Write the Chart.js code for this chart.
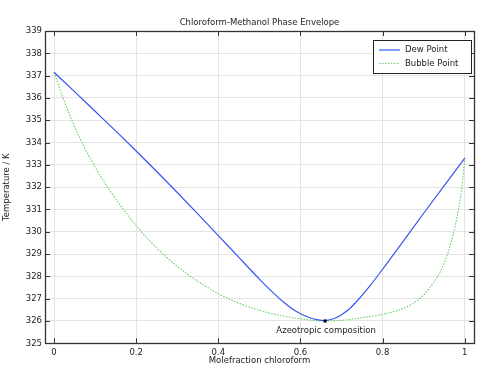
<!DOCTYPE html>
<html>
<head>
<meta charset="utf-8">
<script src="https://cdn.jsdelivr.net/npm/chart.js@4/dist/chart.umd.min.js"></script>
<style>
html,body{margin:0;padding:0;background:#fff;}
#wrap{width:479px;height:366px;position:relative;}
</style>
</head>
<body>
<div id="wrap"><canvas id="c" width="479" height="366"></canvas></div>
<script>
// ---- data ----
const chartTitle = "Chloroform-Methanol Phase Envelope";
const xTitle = "Molefraction chloroform";
const yTitle = "Temperature / K";
const seriesNames = ["Dew Point", "Bubble Point"];
const annotationText = "Azeotropic composition";

const dewX = [0, 0.05, 0.1, 0.15, 0.2, 0.25, 0.3, 0.35, 0.4, 0.45, 0.5, 0.53, 0.56, 0.59, 0.62, 0.64, 0.66, 0.68, 0.7, 0.72, 0.74, 0.77, 0.8, 0.85, 0.9, 0.95, 1.0];
const dewT = [337.15, 336.28, 335.4, 334.52, 333.62, 332.7, 331.76, 330.8, 329.83, 328.85, 327.88, 327.33, 326.83, 326.43, 326.17, 326.06, 326.02, 326.1, 326.28, 326.56, 326.94, 327.6, 328.32, 329.57, 330.83, 332.07, 333.3];

const bubX = [0, 0.025, 0.05, 0.075, 0.1, 0.125, 0.15, 0.175, 0.2, 0.25, 0.3, 0.35, 0.4, 0.45, 0.5, 0.55, 0.6, 0.65, 0.7, 0.75, 0.8, 0.85, 0.875, 0.9, 0.925, 0.94, 0.95, 0.96, 0.97, 0.98, 0.99, 0.995, 1.0];
const bubT = [337.15, 335.85, 334.72, 333.74, 332.9, 332.15, 331.48, 330.85, 330.27, 329.27, 328.45, 327.78, 327.22, 326.8, 326.48, 326.25, 326.1, 326.01, 326.03, 326.15, 326.3, 326.56, 326.8, 327.17, 327.75, 328.2, 328.6, 329.1, 329.75, 330.55, 331.6, 332.3, 333.3];

const azeoX = [0.66];
const azeoT = [326.0];

const xTicks = [0, 0.2, 0.4, 0.6, 0.8, 1];
const yTicks = [325, 326, 327, 328, 329, 330, 331, 332, 333, 334, 335, 336, 337, 338, 339];

// ---- styling ----
const FONT = "DejaVu Sans";
const FS = 8.5;
const blue = "rgb(55,85,245)";
const green = "rgb(100,205,100)";
const textCol = "#222";

function pts(xs, ys){ return xs.map((x,i)=>({x:x, y:ys[i]})); }

const framePlugin = {
  id: 'frame',
  afterDraw(chart){
    const ctx = chart.ctx, a = chart.chartArea;
    const xs = chart.scales.x, ys = chart.scales.y;
    ctx.save();
    ctx.strokeStyle = "#333";
    ctx.lineWidth = 1;
    // inward ticks on all four sides
    ctx.beginPath();
    xTicks.forEach(v=>{
      const px = Math.round(xs.getPixelForValue(v)) + 0.5;
      ctx.moveTo(px, a.bottom); ctx.lineTo(px, a.bottom - 5);
      ctx.moveTo(px, a.top); ctx.lineTo(px, a.top + 5);
    });
    yTicks.forEach(v=>{
      const py = Math.round(ys.getPixelForValue(v)) + 0.5;
      ctx.moveTo(a.left, py); ctx.lineTo(a.left + 5, py);
      ctx.moveTo(a.right, py); ctx.lineTo(a.right - 5, py);
    });
    ctx.stroke();
    // frame
    ctx.lineWidth = 1.3;
    ctx.strokeRect(Math.round(a.left)+0.5, Math.round(a.top)+0.5, Math.round(a.right-a.left), Math.round(a.bottom-a.top));

    // title centred over the plot area
    ctx.fillStyle = textCol;
    ctx.font = FS + "px '" + FONT + "'";
    ctx.textAlign = "center";
    ctx.textBaseline = "middle";
    ctx.fillText(chartTitle, (a.left + a.right) / 2, a.top - 8.5);

    // annotation text under the azeotrope point
    const ax = xs.getPixelForValue(azeoX[0]);
    const ay = ys.getPixelForValue(azeoT[0]);
    ctx.fillText(annotationText, ax + 1, ay + 10);

    // legend box (top-right, inside plot)
    const lx = a.right - 101, ly = a.top + 9, lw = 98, lh = 33;
    ctx.fillStyle = "#fff";
    ctx.fillRect(lx, ly, lw, lh);
    ctx.lineWidth = 1;
    ctx.strokeStyle = "#222";
    ctx.strokeRect(Math.round(lx)+0.5, Math.round(ly)+0.5, lw, lh);
    const entries = [
      {label: seriesNames[0], color: blue, dash: []},
      {label: seriesNames[1], color: green, dash: [1.5,1.5]}
    ];
    entries.forEach((e,i)=>{
      const yy = ly + 10 + i*13.5;
      ctx.beginPath();
      ctx.setLineDash(e.dash);
      ctx.strokeStyle = e.color;
      ctx.lineWidth = 1.2;
      ctx.moveTo(lx + 6, yy); ctx.lineTo(lx + 27, yy);
      ctx.stroke();
      ctx.setLineDash([]);
      ctx.fillStyle = textCol;
      ctx.textAlign = "left";
      ctx.textBaseline = "middle";
      ctx.font = FS + "px '" + FONT + "'";
      ctx.fillText(e.label, lx + 32, yy);
    });
    ctx.restore();
  }
};

new Chart(document.getElementById('c'), {
  type: 'scatter',
  data: {
    datasets: [
      { label: seriesNames[0], data: pts(dewX, dewT), showLine: true, borderColor: blue, backgroundColor: blue,
        borderWidth: 1.2, pointRadius: 0, cubicInterpolationMode: 'monotone', order: 2 },
      { label: seriesNames[1], data: pts(bubX, bubT), showLine: true, borderColor: green, backgroundColor: green,
        borderWidth: 1.1, borderDash: [1.5,1.5], pointRadius: 0, cubicInterpolationMode: 'monotone', order: 3 },
      { label: annotationText, data: pts(azeoX, azeoT), showLine: false, pointStyle: 'rect', pointRadius: 1.8,
        backgroundColor: '#000', borderColor: '#000', borderWidth: 0.5, order: 1 }
    ]
  },
  options: {
    responsive: false,
    animation: false,
    devicePixelRatio: 1,
    layout: { padding: { left: 0, right: 5, top: 31, bottom: 0 } },
    plugins: {
      legend: { display: false },
      tooltip: { enabled: false },
      title: { display: false }
    },
    scales: {
      x: {
        type: 'linear', min: -0.022, max: 1.0225,
        afterBuildTicks: (s) => { s.ticks = xTicks.map(v => ({ value: v })); },
        afterFit: (s) => { s.height = 22.7; },
        grid: { color: '#e4e4e4', drawTicks: false, lineWidth: 1 },
        border: { display: false },
        ticks: { color: textCol, font: { family: FONT, size: FS }, padding: 4, maxRotation: 0,
                 callback: (v) => String(Math.round(v*10)/10) },
        title: { display: true, text: xTitle, color: textCol, font: { family: FONT, size: FS }, padding: { top: 0, bottom: 0 } }
      },
      y: {
        type: 'linear', min: 325, max: 339,
        afterBuildTicks: (s) => { s.ticks = yTicks.map(v => ({ value: v })); },
        afterFit: (s) => { s.width = 45; },
        grid: { color: '#e4e4e4', drawTicks: false, lineWidth: 1 },
        border: { display: false },
        ticks: { color: textCol, font: { family: FONT, size: FS }, padding: 3 },
        title: { display: true, text: yTitle, color: textCol, font: { family: FONT, size: FS }, padding: { top: 2, bottom: 0 } }
      }
    }
  },
  plugins: [framePlugin]
});
</script>
</body>
</html>
